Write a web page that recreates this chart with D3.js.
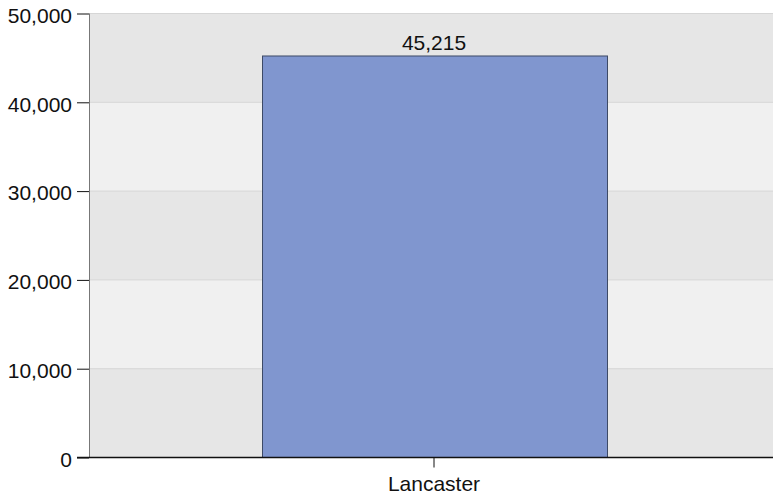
<!DOCTYPE html>
<meta charset="utf-8">
<style>
  body { margin: 0; background: #fff; }
  svg text { font-family: "Liberation Sans", Arial, sans-serif; fill: #111; }
</style>
<body>
<svg id="chart" width="773" height="498"></svg>
<script src="https://d3js.org/d3.v7.min.js"></script>
<script>
var categories = ["Lancaster"];
var values = [45215];
var yTicks = [0, 10000, 20000, 30000, 40000, 50000];

var svg = d3.select("#chart"),
    margin = {top: 13.5, right: 0, bottom: 40.5, left: 89},
    width = +svg.attr("width") - margin.left - margin.right,
    height = +svg.attr("height") - margin.top - margin.bottom;

var g = svg.append("g").attr("transform", "translate(" + margin.left + "," + margin.top + ")");

// plot runs a little past the right edge of the picture
var x = d3.scaleBand().domain(categories).range([0, width + 6]).padding(1 / 3);
var y = d3.scaleLinear().domain([0, 50000]).range([height, 0]);
var fmt = d3.format(",");

// alternating bands
g.selectAll(".band")
  .data(d3.pairs(yTicks))
  .enter().append("rect")
    .attr("x", 0)
    .attr("width", width)
    .attr("y", function(d) { return y(d[1]); })
    .attr("height", function(d) { return y(d[0]) - y(d[1]); })
    .attr("fill", function(d, i) { return i % 2 ? "#f0f0f0" : "#e6e6e6"; });

// grid lines
g.selectAll(".grid")
  .data(yTicks.slice(1))
  .enter().append("line")
    .attr("x1", 0).attr("x2", width)
    .attr("y1", function(d) { return y(d); })
    .attr("y2", function(d) { return y(d); })
    .attr("stroke", "#d6d6d6");

// bars
g.selectAll(".bar")
  .data(values)
  .enter().append("rect")
    .attr("x", function(d, i) { return Math.round(x(categories[i])) + 0.5; })
    .attr("y", function(d) { return y(d); })
    .attr("width", Math.round(x.bandwidth()))
    .attr("height", function(d) { return height - y(d); })
    .attr("fill", "#8096cf")
    .attr("stroke", "#3d4a66")
    .attr("stroke-width", 1);

g.selectAll(".label")
  .data(values)
  .enter().append("text")
    .attr("x", function(d, i) { return x(categories[i]) + x.bandwidth() / 2; })
    .attr("y", function(d) { return y(d) - 6; })
    .attr("text-anchor", "middle")
    .attr("font-size", 21)
    .text(function(d) { return fmt(d); });

// y axis
var ya = g.append("g")
  .call(d3.axisLeft(y).tickValues(yTicks).tickSize(12).tickPadding(5).tickFormat(fmt));
ya.select(".domain").remove();
ya.selectAll(".tick line").attr("stroke", "#111");
ya.selectAll(".tick text").attr("font-size", 21).attr("fill", "#111").attr("dy", "0.42em");
g.append("line")
  .attr("x1", 0.5).attr("x2", 0.5).attr("y1", 0).attr("y2", height)
  .attr("stroke", "#777");

// x axis
var xa = g.append("g")
  .attr("transform", "translate(0," + height + ")")
  .call(d3.axisBottom(x).tickSize(10).tickSizeOuter(0).tickPadding(9));
xa.select(".domain").remove();
xa.append("line")
  .attr("x1", -12).attr("x2", width).attr("y1", 0).attr("y2", 0)
  .attr("stroke", "#111").attr("stroke-width", 1.5);
xa.selectAll(".tick line").attr("stroke", "#111");
xa.selectAll(".tick text").attr("font-size", 21).attr("fill", "#111");
</script>
</body>
